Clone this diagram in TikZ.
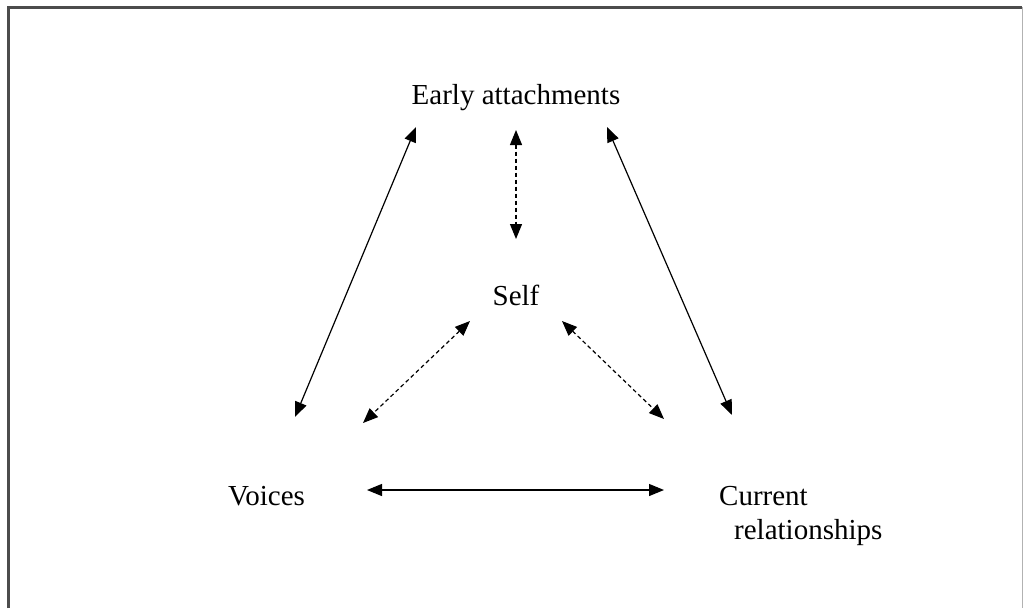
\documentclass[tikz,border=0pt]{standalone}
\usepackage{fontspec}
\setmainfont{Liberation Serif}
\usetikzlibrary{arrows.meta, positioning}
\tikzset{lbl/.style={inner sep=0pt, font=\fontsize{29}{34}\selectfont},
  link/.style={{Triangle[length=15pt,width=12pt]}-{Triangle[length=15pt,width=12pt]}, line width=1.2pt},
  dlink/.style={link, dash pattern=on 4pt off 3pt}}

\begin{document}
\begin{tikzpicture}[x=1pt, y=-1pt]

            \useasboundingbox (0,0) rectangle (1024,608);
            \draw[line width=3pt, black!70] (8,608) |- (1022,7);
            \draw[line width=1.5pt, black!30] (1022.5,7) -- (1022.5,608);

            \node[lbl, anchor=base] (early) at (516,104) {Early attachments};
            \node[lbl, anchor=base] (self) at (516,305) {Self};
            \node[lbl, anchor=base west] (voices) at (228,505) {Voices};
            \node[lbl, anchor=base west, align=left] (current) at (719,539) {Current\\\hspace{15pt}relationships};

            \coordinate (ea1) at (416,127);
            \coordinate (ea2) at (516,130);
            \coordinate (ea3) at (607,127);
            \coordinate (se1) at (516,239);
            \coordinate (se2) at (470,321);
            \coordinate (se3) at (562,321);
            \coordinate (vo1) at (295,417);
            \coordinate (vo2) at (363,423);
            \coordinate (vo3) at (367,490);
            \coordinate (cu1) at (732,415);
            \coordinate (cu2) at (664,419);
            \coordinate (cu3) at (664,490);

            \draw[link] (ea1) -- (vo1);
            \draw[link] (ea3) -- (cu1);
            \draw[link] (vo3) -- (cu3);
            \draw[dlink] (ea2) -- (se1);
            \draw[dlink] (se2) -- (vo2);
            \draw[dlink] (se3) -- (cu2);
            \end{tikzpicture}
\end{document}
